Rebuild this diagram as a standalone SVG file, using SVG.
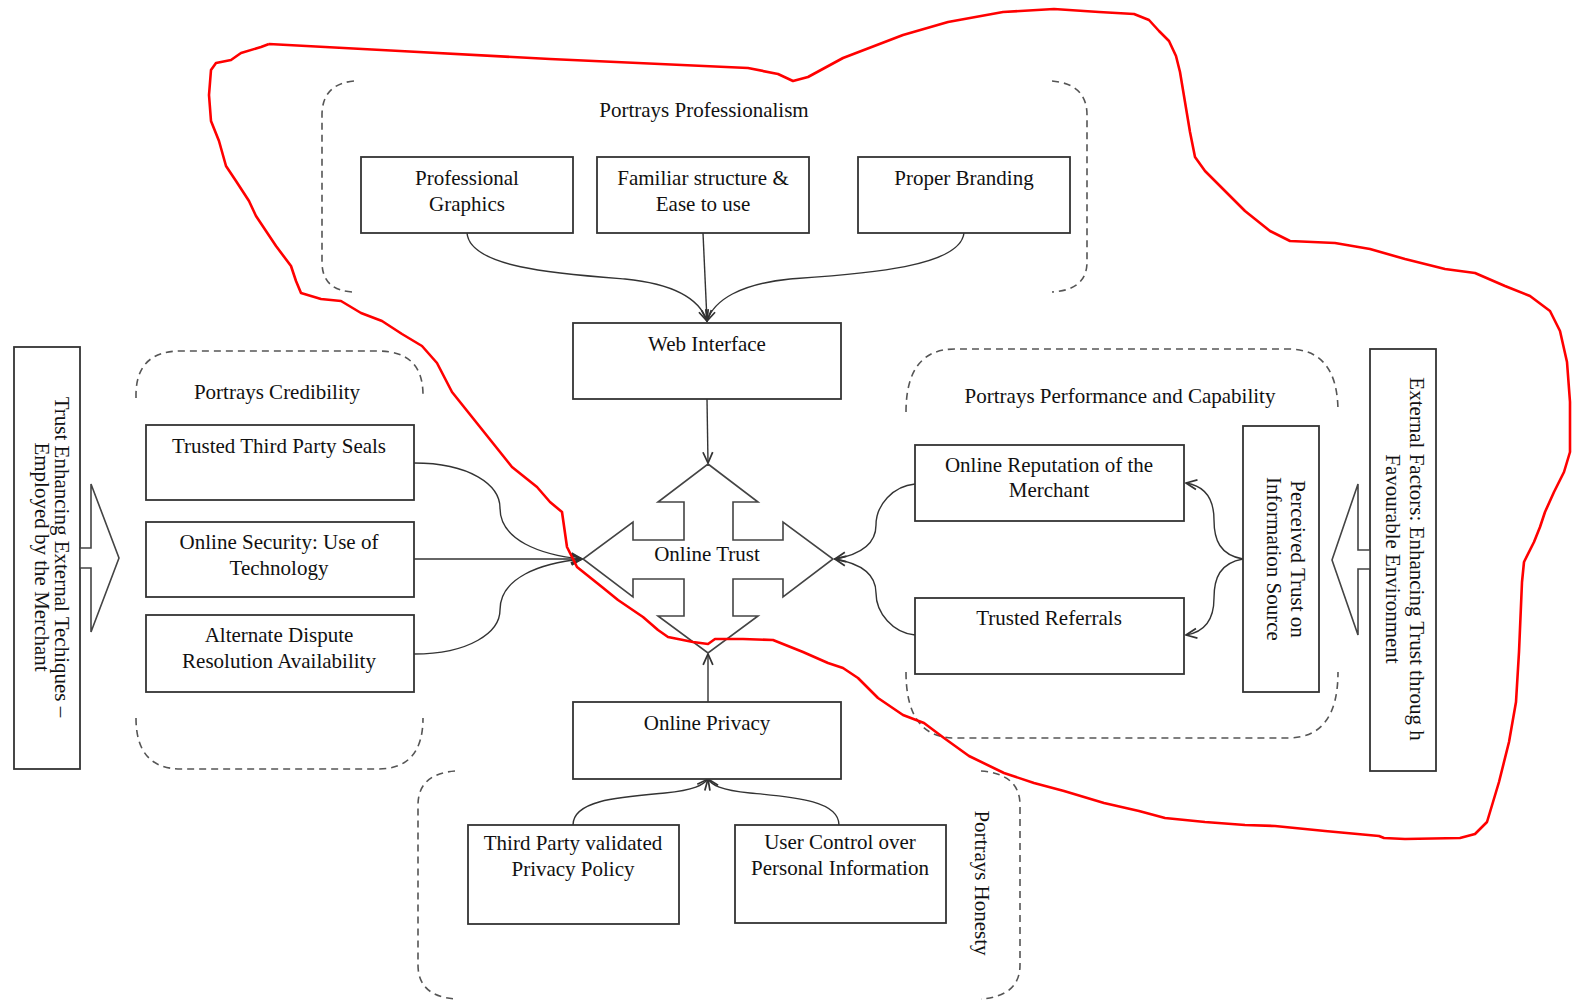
<svg xmlns="http://www.w3.org/2000/svg" width="1574" height="1005" viewBox="0 0 1574 1005">
<style>
.box{fill:#fff;stroke:#333;stroke-width:1.8}
.t{font-family:"Liberation Serif","Times New Roman",serif;font-size:21px;fill:#111;text-anchor:middle}
.dash{fill:none;stroke:#555;stroke-width:1.6;stroke-dasharray:7 5}
.con{fill:none;stroke:#333;stroke-width:1.4}
.shape{fill:#fff;stroke:#444;stroke-width:1.6}
</style>
<defs>
<marker id="arr" viewBox="0 0 12 12" refX="11" refY="6" markerWidth="13" markerHeight="13" orient="auto" markerUnits="userSpaceOnUse">
<path d="M1,1.5 L11,6 L1,10.5" fill="none" stroke="#333" stroke-width="1.6"/>
</marker>
</defs>
<rect width="1574" height="1005" fill="#fff"/>

<g id="groups">
<g id="grp-professionalism">
<path class="dash" d="M354,81 Q322,84 322,115 L322,262 Q322,290 352,292"/>
<path class="dash" d="M1052,81 Q1087,84 1087,115 L1087,262 Q1087,290 1052,292"/>
<text class="t" x="704" y="117">Portrays Professionalism</text>
</g>
<g id="grp-credibility">
<path class="dash" d="M136,398 L136,395 Q136,351 181,351 L378,351 Q423,351 423,395 L423,398"/>
<path class="dash" d="M136,718 Q136,769 181,769 L378,769 Q423,769 423,718"/>
<text class="t" x="277" y="399">Portrays Credibility</text>
</g>
<g id="grp-performance">
<path class="dash" d="M906,412 Q906,349 955,349 L1288,349 Q1338,349 1338,412"/>
<path class="dash" d="M906,672 Q906,738 955,738 L1288,738 Q1338,738 1338,672"/>
<text class="t" x="1120" y="403">Portrays Performance and Capability</text>
</g>
<g id="grp-honesty">
<path class="dash" d="M455,771 Q418,774 418,805 L418,965 Q418,996 455,999"/>
<path class="dash" d="M981,771 Q1020,774 1020,805 L1020,965 Q1020,996 981,999"/>
<text class="t" transform="translate(982,883) rotate(90)" x="0" y="7">Portrays Honesty</text>
</g>
</g>

<g id="connectors">
<path class="con" d="M467,233 C470,268 560,274 625,279 C675,284 700,300 707,321" marker-end="url(#arr)"/>
<path class="con" d="M703,233 L707,321" marker-end="url(#arr)"/>
<path class="con" d="M964,233 C960,268 860,274 790,279 C740,284 714,300 707,321" marker-end="url(#arr)"/>
<path class="con" d="M707,399 L708,463" marker-end="url(#arr)"/>
<path class="con" d="M708,702 L708,654" marker-end="url(#arr)"/>
<path class="con" d="M573,825 C573,800 620,797 665,793 C695,790 703,785 708,779" marker-end="url(#arr)"/>
<path class="con" d="M839,825 C839,800 792,797 750,793 C720,790 712,785 708,779" marker-end="url(#arr)"/>
<path class="con" d="M414,463 C470,463 500,485 500,508 C500,540 540,555 582,559" marker-end="url(#arr)"/>
<path class="con" d="M414,559 L582,559" marker-end="url(#arr)"/>
<path class="con" d="M414,654 C470,654 500,632 500,610 C500,578 540,563 582,559" marker-end="url(#arr)"/>
<path class="con" d="M915,484 C893,486 876,505 876,525 C876,546 858,555 835,559" marker-end="url(#arr)"/>
<path class="con" d="M915,635 C893,633 876,613 876,593 C876,572 858,563 835,559" marker-end="url(#arr)"/>
<path class="con" d="M1243,559 C1220,555 1214,540 1214,520 C1214,498 1205,486 1186,483" marker-end="url(#arr)"/>
<path class="con" d="M1243,559 C1220,563 1214,578 1214,598 C1214,620 1205,632 1186,635" marker-end="url(#arr)"/>
</g>

<g id="node-professional-graphics">
<rect class="box" x="361" y="157" width="212" height="76"/>
<text class="t" x="467" y="185">Professional</text>
<text class="t" x="467" y="211">Graphics</text>
</g>
<g id="node-familiar-structure">
<rect class="box" x="597" y="157" width="212" height="76"/>
<text class="t" x="703" y="185">Familiar structure &amp;</text>
<text class="t" x="703" y="211">Ease to use</text>
</g>
<g id="node-proper-branding">
<rect class="box" x="858" y="157" width="212" height="76"/>
<text class="t" x="964" y="185">Proper Branding</text>
</g>
<g id="node-web-interface">
<rect class="box" x="573" y="323" width="268" height="76"/>
<text class="t" x="707" y="351">Web Interface</text>
</g>
<g id="node-online-trust">
<polygon class="shape" points="708,464 758,502 733,502 733,540 783,540 783,522 833,559 783,597 783,579 733,579 733,616 758,616 708,653 658,616 684,616 684,579 633,579 633,597 583,559 633,522 633,540 684,540 684,502 658,502"/>
<text class="t" x="707" y="561">Online Trust</text>
</g>
<g id="node-online-privacy">
<rect class="box" x="573" y="702" width="268" height="77"/>
<text class="t" x="707" y="730">Online Privacy</text>
</g>
<g id="node-third-party-validated">
<rect class="box" x="468" y="825" width="211" height="99"/>
<text class="t" x="573" y="850">Third Party validated</text>
<text class="t" x="573" y="876">Privacy Policy</text>
</g>
<g id="node-user-control">
<rect class="box" x="735" y="825" width="211" height="98"/>
<text class="t" x="840" y="849">User Control over</text>
<text class="t" x="840" y="875">Personal Information</text>
</g>
<g id="node-trusted-seals">
<rect class="box" x="146" y="425" width="268" height="75"/>
<text class="t" x="279" y="453">Trusted Third Party Seals</text>
</g>
<g id="node-online-security">
<rect class="box" x="146" y="522" width="268" height="75"/>
<text class="t" x="279" y="549">Online Security: Use of</text>
<text class="t" x="279" y="575">Technology</text>
</g>
<g id="node-alternate-dispute">
<rect class="box" x="146" y="615" width="268" height="77"/>
<text class="t" x="279" y="642">Alternate Dispute</text>
<text class="t" x="279" y="668">Resolution Availability</text>
</g>
<g id="node-online-reputation">
<rect class="box" x="915" y="445" width="269" height="76"/>
<text class="t" x="1049" y="472">Online Reputation of the</text>
<text class="t" x="1049" y="497">Merchant</text>
</g>
<g id="node-trusted-referrals">
<rect class="box" x="915" y="598" width="269" height="76"/>
<text class="t" x="1049" y="625">Trusted Referrals</text>
</g>
<g id="node-perceived-trust">
<rect class="box" x="1243" y="426" width="76" height="266"/>
<text class="t" transform="translate(1281,559) rotate(90)" x="0" y="-10">Perceived Trust on</text>
<text class="t" transform="translate(1281,559) rotate(90)" x="0" y="14">Information Source</text>
</g>
<g id="node-trust-enhancing">
<rect class="box" x="14" y="347" width="66" height="422"/>
<text class="t" transform="translate(47,557) rotate(90)" x="0" y="-8">Trust Enhancing  External Techiques –</text>
<text class="t" transform="translate(47,557) rotate(90)" x="0" y="12">Employed by the Merchant</text>
<polygon class="shape" points="80,548 91,548 91,484 119,558 91,632 91,568 80,568"/>
</g>
<g id="node-external-factors">
<rect class="box" x="1370" y="349" width="66" height="422"/>
<text class="t" transform="translate(1403,559) rotate(90)" x="0" y="-7">External Factors: Enhancing  Trust throug h</text>
<text class="t" transform="translate(1403,559) rotate(90)" x="0" y="17">Favourable Environment</text>
<polygon class="shape" points="1370,550 1358,550 1358,484 1332,560 1358,635 1358,569 1370,569"/>
</g>

<g id="annotation">
<path fill="none" stroke="#f00" stroke-width="2.6" stroke-linejoin="round" d="M269,44 L400,51 L550,59 L748,68 L778,74 L793,81 L808,77 L843,58 L903,35 L948,22 L1003,12 L1054,9 L1099,12 L1134,14 L1149,20 L1159,31 L1169,41 L1176,56 L1180,72 L1185,102 L1190,132 L1195,157 L1205,171 L1220,186 L1245,211 L1270,231 L1290,241 L1335,243 L1370,249 L1405,259 L1445,269 L1475,273 L1505,286 L1530,296 L1550,311 L1560,331 L1567,362 L1570,402 L1570,452 L1564,472 L1554,492 L1545,512 L1540,527 L1534,542 L1524,562 L1522,582 L1519,652 L1516,702 L1509,742 L1499,782 L1493,802 L1487,822 L1475,834 L1460,838 L1405,839 L1384,838 L1379,836 L1325,831 L1275,826 L1245,825 L1205,822 L1185,820 L1165,818 L1139,811 L1104,803 L1064,791 L1034,783 L1004,773 L969,756 L944,738 L924,723 L903,715 L878,698 L858,678 L843,668 L828,663 L803,652 L773,640 L743,639 L715,639 L708,644 L693,642 L668,637 L658,630 L643,617 L618,600 L602,587 L577,567 L567,547 L562,512 L550,502 L537,487 L512,467 L492,442 L472,417 L452,392 L437,363 L422,346 L402,334 L382,321 L361,313 L341,301 L321,299 L301,293 L296,281 L291,266 L276,246 L266,231 L256,216 L249,201 L236,181 L226,166 L219,141 L211,121 L209,95 L211,70 L216,63 L231,60 L241,53 L261,47 L269,44"/>
</g>
</svg>
